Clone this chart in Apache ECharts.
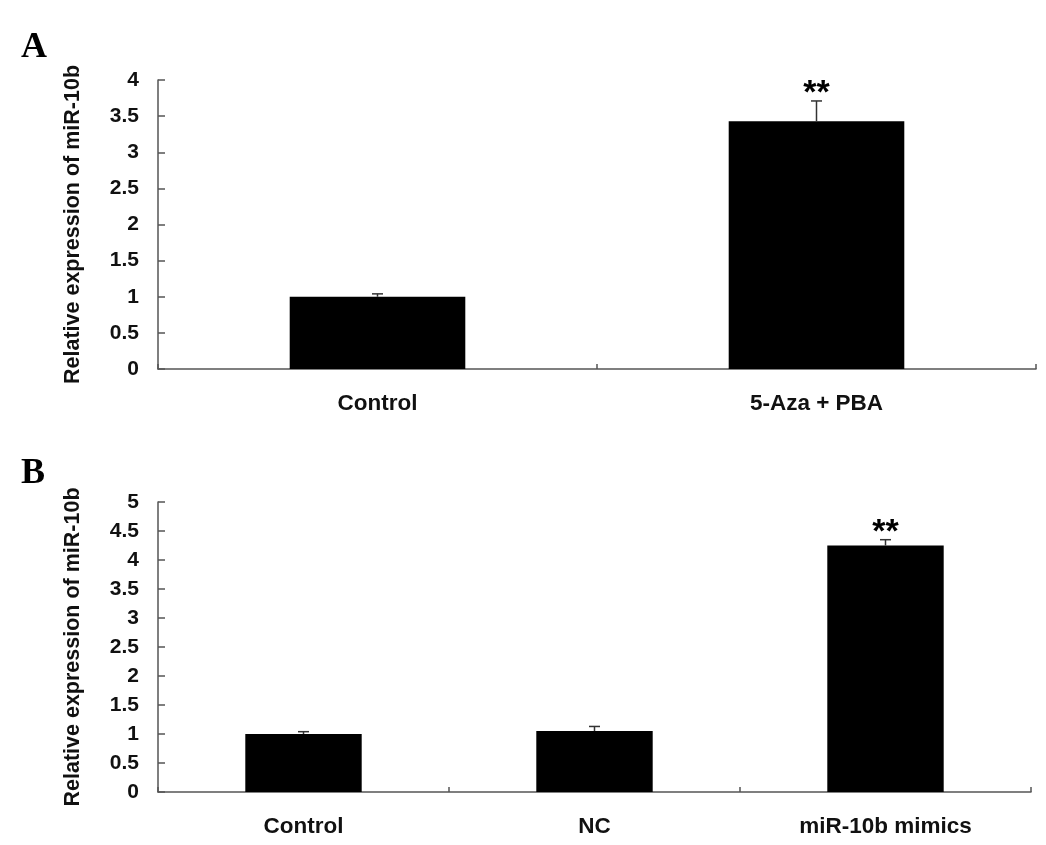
<!DOCTYPE html>
<html>
<head>
<meta charset="utf-8">
<script src="https://cdn.jsdelivr.net/npm/echarts@6/dist/echarts.min.js"></script>
<style>
html,body{margin:0;padding:0;background:#fff;}
#c{width:1046px;height:845px;}
</style>
</head>
<body>
<div id="c"></div>
<script>
// Panel A
const catsA = ['Control', '5-Aza + PBA'];
const valsA = [1.0, 3.43];
const errA = [1.04, 3.71];
const sigA = ['', '**'];
const ticksA = [0, 0.5, 1, 1.5, 2, 2.5, 3, 3.5, 4];
// Panel B
const catsB = ['Control', 'NC', 'miR-10b mimics'];
const valsB = [1.0, 1.05, 4.25];
const errB = [1.04, 1.13, 4.35];
const sigB = ['', '', '**'];
const ticksB = [0, 0.5, 1, 1.5, 2, 2.5, 3, 3.5, 4, 4.5, 5];

const FONT = 'Liberation Sans, Arial, sans-serif';
const axisColor = '#555';
const yTitle = 'Relative expression of miR-10b';

function yAxis(gi, max) {
  return {
    type: 'value', gridIndex: gi, min: 0, max: max, interval: 0.5,
    axisLine: {show: true, lineStyle: {color: axisColor, width: 1.5}},
    axisTick: {show: true, inside: true, length: 7, lineStyle: {color: axisColor, width: 1.5}},
    splitLine: {show: false},
    axisLabel: {color: '#111', fontFamily: FONT, fontWeight: 'bold', fontSize: 21, margin: 19},
    name: yTitle, nameLocation: 'middle', nameRotate: 90, nameGap: 74,
    nameTextStyle: {color: '#111', fontFamily: FONT, fontWeight: 'bold', fontSize: 21.5}
  };
}
function xAxis(gi, cats) {
  return {
    type: 'category', gridIndex: gi, data: cats,
    axisLine: {show: true, lineStyle: {color: axisColor, width: 1.5}},
    axisTick: {show: true, inside: true, length: 5, alignWithLabel: false, lineStyle: {color: axisColor, width: 1.5}},
    axisLabel: {color: '#111', fontFamily: FONT, fontWeight: 'bold', fontSize: 22.5, margin: 23}
  };
}
function errSeries(gi, errs, vals, sigs) {
  return {
    type: 'custom', xAxisIndex: gi, yAxisIndex: gi, z: 5,
    data: errs.map((e, i) => [i, e, vals[i]]),
    renderItem: function (params, api) {
      const i = api.value(0);
      const top = api.coord([i, api.value(1)]);
      const base = api.coord([i, api.value(2)]);
      const children = [
        {type: 'line', shape: {x1: top[0], y1: base[1], x2: top[0], y2: top[1]}, style: {stroke: '#333', lineWidth: 1.5}},
        {type: 'line', shape: {x1: top[0] - 5.5, y1: top[1], x2: top[0] + 5.5, y2: top[1]}, style: {stroke: '#333', lineWidth: 1.5}}
      ];
      const s = sigs[params.dataIndex];
      if (s) {
        children.push({type: 'text', style: {text: s, x: top[0], y: top[1] - 7, textAlign: 'center', textVerticalAlign: 'middle', fill: '#000', font: 'bold 34px ' + FONT}});
      }
      return {type: 'group', children: children};
    }
  };
}

const chart = echarts.init(document.getElementById('c'));
chart.setOption({
  animation: false,
  backgroundColor: '#fff',
  grid: [
    {left: 158, right: 10, top: 80, bottom: 476, containLabel: false},
    {left: 158, right: 15, top: 502, bottom: 53, containLabel: false}
  ],
  graphic: [
    {type: 'text', left: 21, top: 30, style: {text: 'A', font: 'bold 36px "Liberation Serif", "Times New Roman", serif', fill: '#000'}},
    {type: 'text', left: 21, top: 456, style: {text: 'B', font: 'bold 36px "Liberation Serif", "Times New Roman", serif', fill: '#000'}}
  ],
  xAxis: [xAxis(0, catsA), xAxis(1, catsB)],
  yAxis: [yAxis(0, ticksA[ticksA.length - 1]), yAxis(1, ticksB[ticksB.length - 1])],
  series: [
    {type: 'bar', xAxisIndex: 0, yAxisIndex: 0, data: valsA, barWidth: '40%', itemStyle: {color: '#000'}},
    errSeries(0, errA, valsA, sigA),
    {type: 'bar', xAxisIndex: 1, yAxisIndex: 1, data: valsB, barWidth: '40%', itemStyle: {color: '#000'}},
    errSeries(1, errB, valsB, sigB)
  ]
});
</script>
</body>
</html>
